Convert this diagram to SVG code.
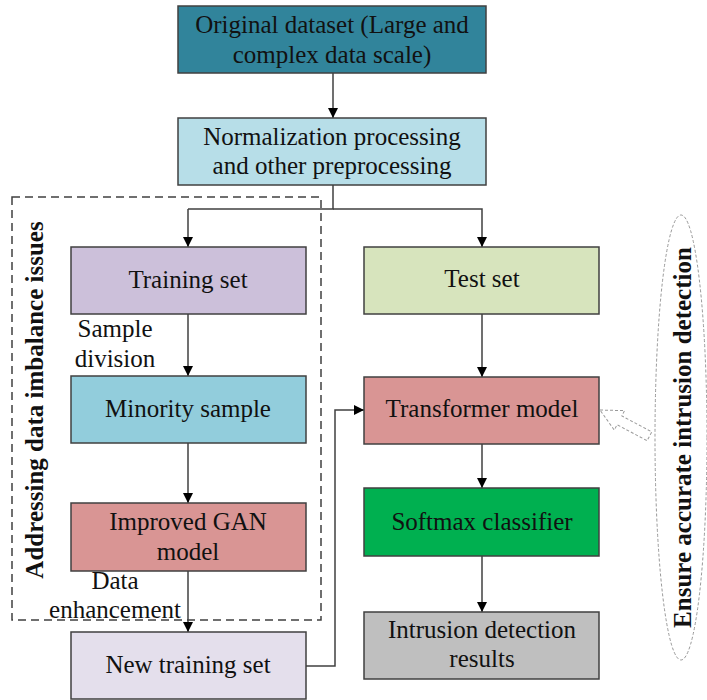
<svg xmlns="http://www.w3.org/2000/svg" width="707" height="700" viewBox="0 0 707 700">
<defs>
<marker id="ah" markerWidth="10" markerHeight="10" refX="10" refY="5" orient="auto" markerUnits="userSpaceOnUse">
<path d="M0,0 L10,5 L0,10 Z" fill="#000"/>
</marker>
<style>
.box{stroke:#404040;stroke-width:1.5}
.t{font-family:"Liberation Serif","Times New Roman",serif;font-size:25px;fill:#111;text-anchor:middle}
.b{font-family:"Liberation Serif","Times New Roman",serif;font-size:25px;font-weight:bold;fill:#111;text-anchor:middle}
.c{fill:none;stroke:#404040;stroke-width:1.5;marker-end:url(#ah)}
.cn{fill:none;stroke:#404040;stroke-width:1.5}
</style>
</defs>
<rect width="707" height="700" fill="#fff"/>

<g id="group-imbalance">
<rect x="12" y="197" width="309" height="423" fill="none" stroke="#404040" stroke-width="1.5" stroke-dasharray="8,5"/>
<text class="b" transform="translate(43,400) rotate(-90)">Addressing data imbalance issues</text>
</g>

<g id="ensure">
<ellipse cx="681" cy="437.5" rx="26" ry="222.5" fill="none" stroke="#999" stroke-width="1" stroke-dasharray="3,2"/>
<text class="b" transform="translate(691,437.5) rotate(-90)">Ensure accurate intrusion detection</text>
<polygon points="0,0 22,-11 22,-5 56,-5 56,5 22,5 22,11" transform="translate(600,410) rotate(28)" fill="#fff" stroke="#999" stroke-width="1" stroke-dasharray="3,2"/>
</g>

<g id="connectors">
<path class="c" d="M333,73 V118"/>
<path class="cn" d="M333,185 V209 H188"/>
<path class="c" d="M188,209 V247"/>
<path class="c" d="M333,209 H482 V247"/>
<path class="c" d="M188,314 V376"/>
<path class="c" d="M188,443 V503"/>
<path class="c" d="M188,571 V632"/>
<path class="c" d="M306,666 H335 V410 H364"/>
<path class="c" d="M482,314 V377"/>
<path class="c" d="M482,444 V488"/>
<path class="c" d="M482,556 V612"/>
</g>

<g id="original">
<rect class="box" x="178" y="6" width="308" height="67" fill="#31849b"/>
<text class="t" x="332" y="33">Original dataset (Large and</text>
<text class="t" x="332" y="63">complex data scale)</text>
</g>
<g id="normalization">
<rect class="box" x="178" y="118" width="308" height="67" fill="#b7dee8"/>
<text class="t" x="332" y="145">Normalization processing</text>
<text class="t" x="332" y="174">and other preprocessing</text>
</g>
<g id="training">
<rect class="box" x="71" y="247" width="235" height="67" fill="#ccc0da"/>
<text class="t" x="188" y="288">Training set</text>
</g>
<g id="minority">
<rect class="box" x="71" y="376" width="235" height="67" fill="#92cddc"/>
<text class="t" x="188" y="417">Minority sample</text>
</g>
<g id="gan">
<rect class="box" x="71" y="503" width="235" height="68" fill="#d99594"/>
<text class="t" x="188" y="530">Improved GAN</text>
<text class="t" x="188" y="560">model</text>
</g>
<g id="newtraining">
<rect class="box" x="71" y="632" width="235" height="67" fill="#e4dfec"/>
<text class="t" x="188" y="673">New training set</text>
</g>
<g id="test">
<rect class="box" x="364" y="247" width="235" height="67" fill="#d7e4bd"/>
<text class="t" x="482" y="287">Test set</text>
</g>
<g id="transformer">
<rect class="box" x="364" y="377" width="235" height="67" fill="#d99594"/>
<text class="t" x="482" y="417">Transformer model</text>
</g>
<g id="softmax">
<rect class="box" x="364" y="488" width="235" height="68" fill="#00b050"/>
<text class="t" x="482" y="530">Softmax classifier</text>
</g>
<g id="results">
<rect class="box" x="364" y="612" width="235" height="67" fill="#bfbfbf"/>
<text class="t" x="482" y="638">Intrusion detection</text>
<text class="t" x="482" y="667">results</text>
</g>

<g id="labels">
<text class="t" x="115" y="337">Sample</text>
<text class="t" x="115" y="367">division</text>
<text class="t" x="115" y="589">Data</text>
<text class="t" x="115" y="618">enhancement</text>
</g>
</svg>
